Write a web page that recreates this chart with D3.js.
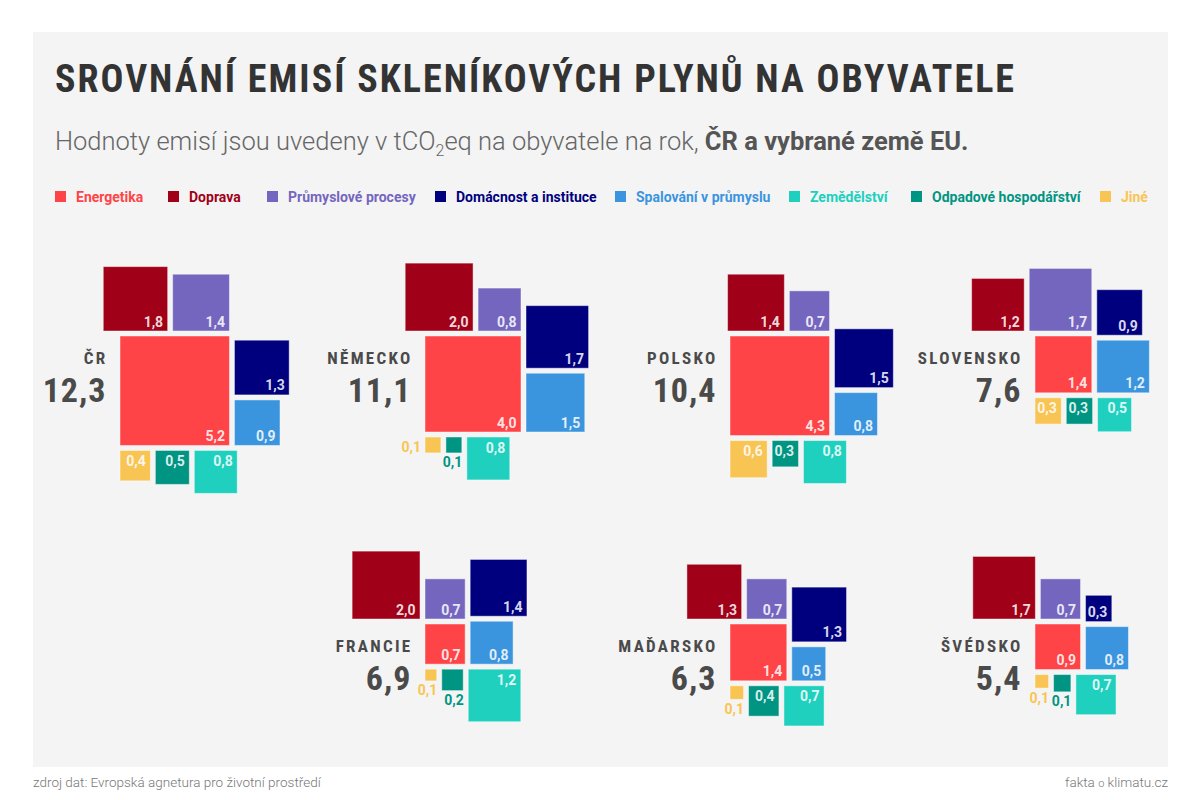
<!DOCTYPE html>
<html><head><meta charset="utf-8">
<script src="https://cdn.jsdelivr.net/npm/d3@7"></script>
<style>body{margin:0;background:#fff;} svg{display:block;}</style>
</head><body>
<svg id="chart" width="1201" height="800"></svg>
<script>
// ---- DATA ----
const countries = ["ČR", "NĚMECKO", "POLSKO", "SLOVENSKO", "FRANCIE", "MAĎARSKO", "ŠVÉDSKO"];
const totals = [12.3, 11.1, 10.4, 7.6, 6.9, 6.3, 5.4];
const sectors = ["Energetika", "Doprava", "Průmyslové procesy", "Domácnost a instituce",
  "Spalování v průmyslu", "Zemědělství", "Odpadové hospodářství", "Jiné"];
const colors = ["#ff4448", "#a00018", "#7466bf", "#00007f", "#3b95de", "#20d0be", "#009483", "#f8c555"];
const energetika  = [5.2, 4.0, 4.3, 1.4, 0.7, 1.4, 0.9];
const doprava     = [1.8, 2.0, 1.4, 1.2, 2.0, 1.3, 1.7];
const prumysl     = [1.4, 0.8, 0.7, 1.7, 0.7, 0.7, 0.7];
const domacnost   = [1.3, 1.7, 1.5, 0.9, 1.4, 1.3, 0.3];
const spalovani   = [0.9, 1.5, 0.8, 1.2, 0.8, 0.5, 0.8];
const zemedelstvi = [0.8, 0.8, 0.8, 0.5, 1.2, 0.7, 0.7];
const odpad       = [0.5, 0.11, 0.3, 0.3, 0.2, 0.4, 0.13];
const jine        = [0.4, 0.11, 0.6, 0.3, 0.06, 0.08, 0.08];
const sectorValues = [energetika, doprava, prumysl, domacnost, spalovani, zemedelstvi, odpad, jine];

// ---- LAYOUT ----
const gridCol = [0, 1, 2, 3, 1, 2, 3];
const gridRow = [0, 0, 0, 0, 1, 1, 1];
const legendX = [55, 168, 267, 435, 615, 789, 911, 1100];
const condensed = "'Roboto Condensed', 'Liberation Sans Narrow', 'DejaVu Sans Condensed', sans-serif";
const fmt = v => d3.format(".1f")(v).replace(".", ",");

const svg = d3.select("#chart");
svg.append("rect").attr("x", 33).attr("y", 32).attr("width", 1135).attr("height", 735).attr("fill", "#f4f4f4");

// Title
const title = svg.append("text").attr("x", 55).attr("y", 91.5)
  .attr("font-family", condensed).attr("font-weight", 700).attr("font-size", 38)
  .attr("fill", "#333").text("SROVNÁNÍ EMISÍ SKLENÍKOVÝCH PLYNŮ NA OBYVATELE");
{
  const w0 = title.node().getComputedTextLength();
  const n = title.text().length;
  title.attr("letter-spacing", (959 - w0) / (n - 1));
}

// Subtitle
const sub = svg.append("text").attr("x", 55).attr("y", 150)
  .attr("font-family", "Roboto, sans-serif").attr("font-size", 25.5).attr("fill", "#666").attr("font-weight", 300);
sub.append("tspan").text("Hodnoty emisí jsou uvedeny v tCO");
sub.append("tspan").attr("font-size", 16).attr("dy", 6).text("2");
sub.append("tspan").attr("dy", -6).text("eq na obyvatele na rok, ");
sub.append("tspan").attr("font-weight", 700).attr("fill", "#555").text("ČR a vybrané země EU.");

// Legend
const legend = svg.append("g");
const items = legend.selectAll("g").data(sectors).join("g")
  .attr("transform", (d, i) => `translate(${legendX[i]},0)`);
items.append("rect").attr("y", 191).attr("width", 11).attr("height", 11).attr("fill", (d, i) => colors[i]);
items.append("text").attr("x", 21).attr("y", 201.5)
  .attr("font-family", "Roboto, sans-serif").attr("font-weight", 700).attr("font-size", 14)
  .attr("fill", (d, i) => colors[i]).text(d => d);

// Scales
const side = d3.scaleSqrt().domain([0, 1]).range([0, 48]);
const xCol = d3.scaleLinear().domain([0, 3]).range([120, 1035]);
const yRow = d3.scaleLinear().domain([0, 1]).range([336, 624]);
const GAP = 5;
const labelLeft = new Set(["NĚMECKO|Jiné"]);

countries.forEach((country, ci) => {
  const vals = sectorValues.map(a => a[ci]);
  const ex = xCol(gridCol[ci]), ey = yRow(gridRow[ci]);
  const E = side(vals[0]);
  const cells = [{ k: 0, x: ex, y: ey, s: E, pos: "center" }];
  let x = ex + E;
  [2, 1].forEach(k => { const s = side(vals[k]); x -= s; cells.push({ k, x, y: ey - GAP - s, s, pos: "top" }); x -= GAP; });
  let y = ey + E;
  [4, 3].forEach(k => { const s = side(vals[k]); y -= s; cells.push({ k, x: ex + E + GAP, y, s, pos: "right" }); y -= GAP; });
  x = ex;
  [7, 6, 5].forEach(k => { const s = side(vals[k]); cells.push({ k, x, y: ey + E + GAP, s, pos: "bottom" }); x += s + GAP; });

  const g = svg.append("g");
  g.selectAll("rect").data(cells).join("rect")
    .attr("x", d => d.x).attr("y", d => d.y).attr("width", d => d.s).attr("height", d => d.s)
    .attr("fill", d => colors[d.k]).attr("stroke", "#fff").attr("stroke-opacity", 0.45).attr("stroke-width", 1);

  g.selectAll("text.v").data(cells).join("text").attr("class", "v")
    .attr("font-family", "Roboto, sans-serif").attr("font-weight", 700).attr("font-size", 14)
    .attr("text-anchor", "end")
    .each(function (d) {
      const t = d3.select(this).text(fmt(vals[d.k]));
      if (d.s >= 24) {
        t.attr("fill", "#fff").attr("fill-opacity", 0.86).attr("x", d.x + d.s - 4.5)
          .attr("y", d.pos === "bottom" ? d.y + 15.5 : d.y + d.s - 4.5);
      } else if (labelLeft.has(country + "|" + sectors[d.k])) {
        t.attr("fill", colors[d.k]).attr("x", d.x - 4).attr("y", d.y + 15);
      } else {
        t.attr("fill", colors[d.k]).attr("x", d.x + d.s + 0.5).attr("y", d.y + d.s + 14.5);
      }
    });

  g.append("text").attr("x", ex - 12.5).attr("y", ey + 28).attr("text-anchor", "end")
    .attr("font-family", condensed).attr("font-weight", 700).attr("font-size", 17)
    .attr("letter-spacing", 2.3).attr("fill", "#4a4a4a").text(country);
  g.append("text").attr("x", ex - 13.5).attr("y", ey + 66).attr("text-anchor", "end")
    .attr("font-family", condensed).attr("font-weight", 700).attr("font-size", 34)
    .attr("letter-spacing", 1).attr("fill", "#4a4a4a").text(fmt(totals[ci]));
});

// Footer
svg.append("text").attr("x", 33).attr("y", 787).attr("font-family", "Roboto, sans-serif").attr("font-weight", 300)
  .attr("font-size", 13.5).attr("fill", "#777").text("zdroj dat: Evropská agnetura pro životní prostředí");
const ft = svg.append("text").attr("x", 1168).attr("y", 787).attr("text-anchor", "end")
  .attr("font-family", "Roboto, sans-serif").attr("font-weight", 300).attr("font-size", 13.5).attr("fill", "#777");
ft.append("tspan").text("fakta ");
ft.append("tspan").attr("font-size", 11).text("o");
ft.append("tspan").text(" klimatu.cz");
</script>
</body></html>
